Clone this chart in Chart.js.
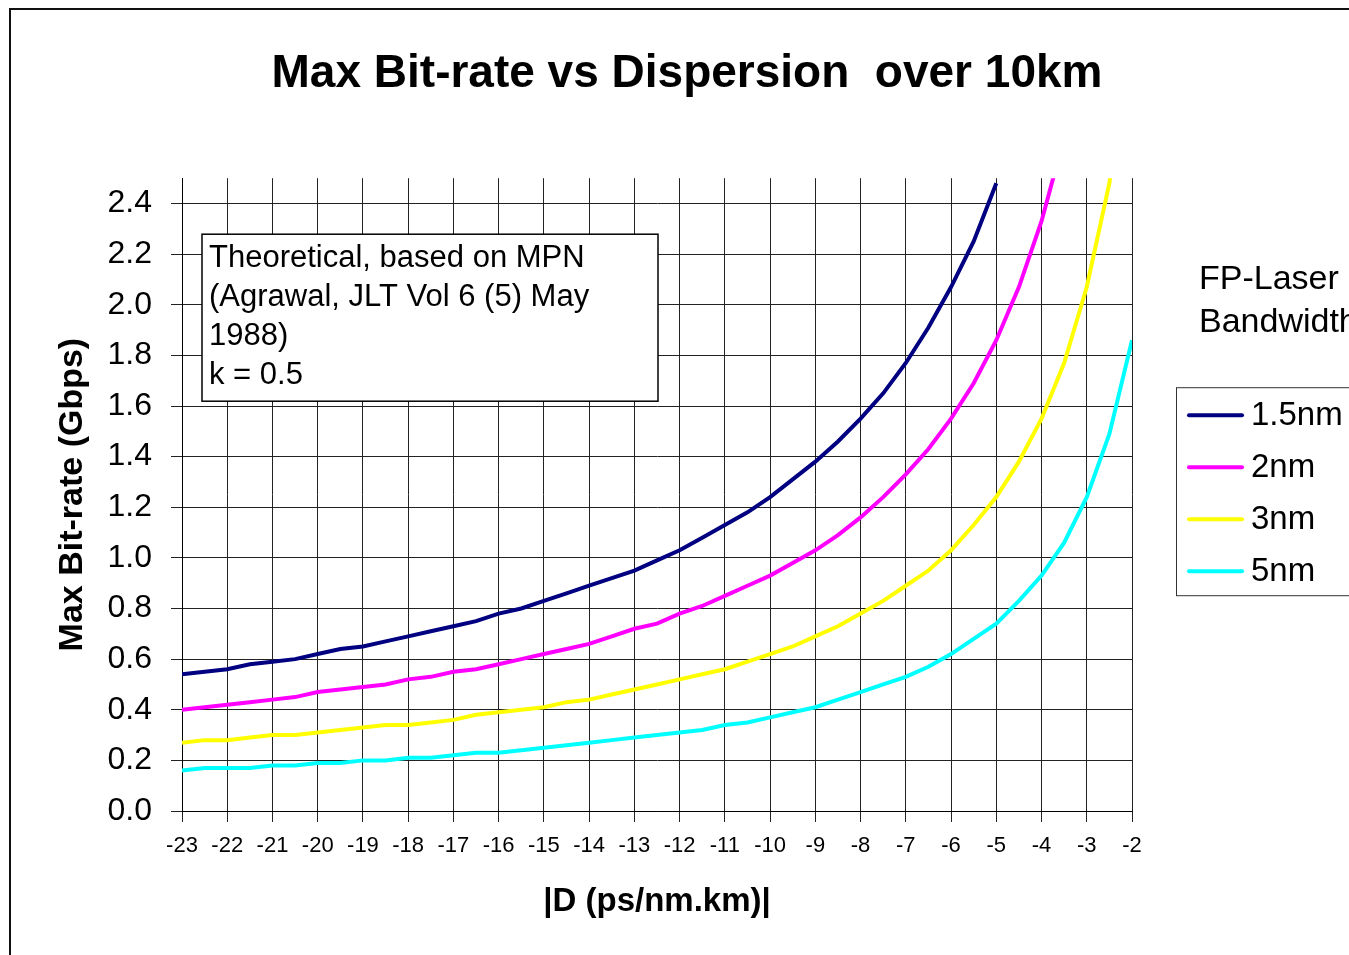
<!DOCTYPE html>
<html>
<head>
<meta charset="utf-8">
<title>Max Bit-rate vs Dispersion</title>
<script src="https://cdn.jsdelivr.net/npm/chart.js@4.4.1/dist/chart.umd.min.js"></script>
<style>
  html, body { margin: 0; padding: 0; background: #fff; overflow: hidden; }
  #frame { position: absolute; left: 9px; top: 8px; border: 2px solid #111; width: 1352px; height: 960px; }
  canvas { display: block; }
</style>
</head>
<body>
<div id="frame"><canvas id="chart" width="1352" height="960"></canvas></div>
<script>
"use strict";

const dispersion = [
  -23, -22.5, -22, -21.5, -21, -20.5, -20, -19.5, -19, -18.5, -18, -17.5, -17, -16.5,
  -16, -15.5, -15, -14.5, -14, -13.5, -13, -12.5, -12, -11.5, -11, -10.5, -10, -9.5,
  -9, -8.5, -8, -7.5, -7, -6.5, -6, -5.5, -5, -4.5, -4, -3.5, -3, -2.5, -2
];

const rate15nm = [
  0.54, 0.55, 0.56, 0.58, 0.59, 0.60, 0.62, 0.64, 0.65, 0.67, 0.69, 0.71, 0.73, 0.75,
  0.78, 0.80, 0.83, 0.86, 0.89, 0.92, 0.95, 0.99, 1.03, 1.08, 1.13, 1.18, 1.24, 1.31,
  1.38, 1.46, 1.55, 1.65, 1.77, 1.91, 2.07, 2.25, 2.48, null, null, null, null, null, null
];
const rate2nm = [
  0.40, 0.41, 0.42, 0.43, 0.44, 0.45, 0.47, 0.48, 0.49, 0.50, 0.52, 0.53, 0.55, 0.56,
  0.58, 0.60, 0.62, 0.64, 0.66, 0.69, 0.72, 0.74, 0.78, 0.81, 0.85, 0.89, 0.93, 0.98,
  1.03, 1.09, 1.16, 1.24, 1.33, 1.43, 1.55, 1.69, 1.86, 2.07, 2.33, 2.66, null, null, null
];
const rate3nm = [
  0.27, 0.28, 0.28, 0.29, 0.30, 0.30, 0.31, 0.32, 0.33, 0.34, 0.34, 0.35, 0.36, 0.38,
  0.39, 0.40, 0.41, 0.43, 0.44, 0.46, 0.48, 0.50, 0.52, 0.54, 0.56, 0.59, 0.62, 0.65,
  0.69, 0.73, 0.78, 0.83, 0.89, 0.95, 1.03, 1.13, 1.24, 1.38, 1.55, 1.77, 2.07, 2.48, 3.10
];
const rate5nm = [
  0.16, 0.17, 0.17, 0.17, 0.18, 0.18, 0.19, 0.19, 0.20, 0.20, 0.21, 0.21, 0.22, 0.23,
  0.23, 0.24, 0.25, 0.26, 0.27, 0.28, 0.29, 0.30, 0.31, 0.32, 0.34, 0.35, 0.37, 0.39,
  0.41, 0.44, 0.47, 0.50, 0.53, 0.57, 0.62, 0.68, 0.74, 0.83, 0.93, 1.06, 1.24, 1.49, 1.86
];

const yTicks = [0, 0.2, 0.4, 0.6, 0.8, 1.0, 1.2, 1.4, 1.6, 1.8, 2.0, 2.2, 2.4];

const seriesNames = ["1.5nm", "2nm", "3nm", "5nm"];
const seriesColors = ["#000080", "#ff00ff", "#ffff00", "#00ffff"];
const allRates = [rate15nm, rate2nm, rate3nm, rate5nm];

const noteLines = ["Theoretical, based on MPN", "(Agrawal, JLT Vol 6 (5) May", "1988)", "k = 0.5"];
const legendTitle = ["FP-Laser", "Bandwidth"];

const fontFamily = "'Liberation Sans', Arial, sans-serif";
Chart.defaults.font.family = fontFamily;
Chart.defaults.color = "#000";

function toPoints(values) {
  const points = [];
  for (let i = 0; i < dispersion.length; i++) {
    if (values[i] !== null) {
      points.push({ x: dispersion[i], y: values[i] });
    }
  }
  return points;
}

const datasets = [];
for (let i = 0; i < seriesNames.length; i++) {
  datasets.push({
    label: seriesNames[i],
    data: toPoints(allRates[i]),
    borderColor: seriesColors[i],
    backgroundColor: seriesColors[i],
    borderWidth: 4,
    pointRadius: 0,
    tension: 0,
    fill: false,
  });
}

// note box and the right-hand legend are drawn on top
const extrasPlugin = {
  id: "extras",
  afterDraw(chart) {
    const ctx = chart.ctx;
    const area = chart.chartArea;
    ctx.save();

    const boxX = area.left + 20;
    const boxY = area.top + 56;
    ctx.fillStyle = "#fff";
    ctx.fillRect(boxX, boxY, 456, 167);
    ctx.strokeStyle = "#000";
    ctx.lineWidth = 1.5;
    ctx.strokeRect(boxX, boxY, 456, 167);
    ctx.fillStyle = "#000";
    ctx.font = "31px " + fontFamily;
    ctx.textAlign = "left";
    ctx.textBaseline = "middle";
    for (let i = 0; i < noteLines.length; i++) {
      ctx.fillText(noteLines[i], boxX + 7, boxY + 24 + i * 39);
    }

    ctx.font = "34px " + fontFamily;
    for (let i = 0; i < legendTitle.length; i++) {
      ctx.fillText(legendTitle[i], area.right + 67, area.top + 101 + i * 43);
    }

    const legX = area.right + 44;
    const legY = area.top + 209;
    ctx.strokeStyle = "#333";
    ctx.lineWidth = 1;
    ctx.strokeRect(legX + 0.5, legY + 0.5, 260, 208);
    ctx.lineCap = "round";
    ctx.font = "33px " + fontFamily;
    chart.data.datasets.forEach(function (ds, i) {
      const y = legY + 28 + i * 52;
      ctx.strokeStyle = ds.borderColor;
      ctx.lineWidth = 4;
      ctx.beginPath();
      ctx.moveTo(legX + 13, y);
      ctx.lineTo(legX + 66, y);
      ctx.stroke();
      ctx.fillStyle = "#000";
      ctx.fillText(ds.label, legX + 75, y + 1);
    });
    ctx.restore();
  },
};

const config = {
  type: "line",
  data: { datasets: datasets },
  plugins: [extrasPlugin],
  options: {
    responsive: false,
    animation: false,
    plugins: {
      legend: { display: false },
      tooltip: { enabled: false },
      title: {
        display: true,
        text: "Max Bit-rate vs Dispersion  over 10km",
        color: "#000",
        font: { size: 46, weight: "bold" },
        padding: { top: 37, bottom: 76 },
      },
    },
    scales: {
      x: {
        type: "linear",
        min: -23,
        max: -2,
        ticks: { stepSize: 1, font: { size: 22 }, padding: 11, color: "#000" },
        grid: { color: "#222", lineWidth: 1, tickLength: 11 },
        border: { color: "#000", width: 1 },
        title: {
          display: true,
          text: "|D (ps/nm.km)|",
          color: "#000",
          font: { size: 33, weight: "bold" },
          padding: { top: 0, bottom: 48 },
        },
        afterFit(scale) {
          scale.height = 159;
        },
      },
      y: {
        min: 0,
        max: 2.5,
        ticks: {
          font: { size: 32 },
          padding: 19,
          color: "#000",
          callback: function (value) {
            return value.toFixed(1);
          },
        },
        afterBuildTicks(scale) {
          scale.ticks = yTicks.map(function (v) {
            return { value: v };
          });
        },
        grid: { color: "#222", lineWidth: 1, tickLength: 11 },
        border: { color: "#000", width: 1 },
        title: {
          display: true,
          text: "Max Bit-rate (Gbps)",
          color: "#000",
          font: { size: 34, weight: "bold" },
          padding: { top: 41, bottom: 0 },
        },
        afterFit(scale) {
          scale.width = 171;
        },
      },
      // empty scale on the right keeps room for the legend
      side: {
        type: "linear",
        position: "right",
        display: true,
        ticks: { display: false },
        grid: { display: false },
        border: { display: false },
        afterFit(scale) {
          scale.width = 231;
        },
      },
    },
  },
};

const myChart = new Chart(document.getElementById("chart"), config);
</script>
</body>
</html>
